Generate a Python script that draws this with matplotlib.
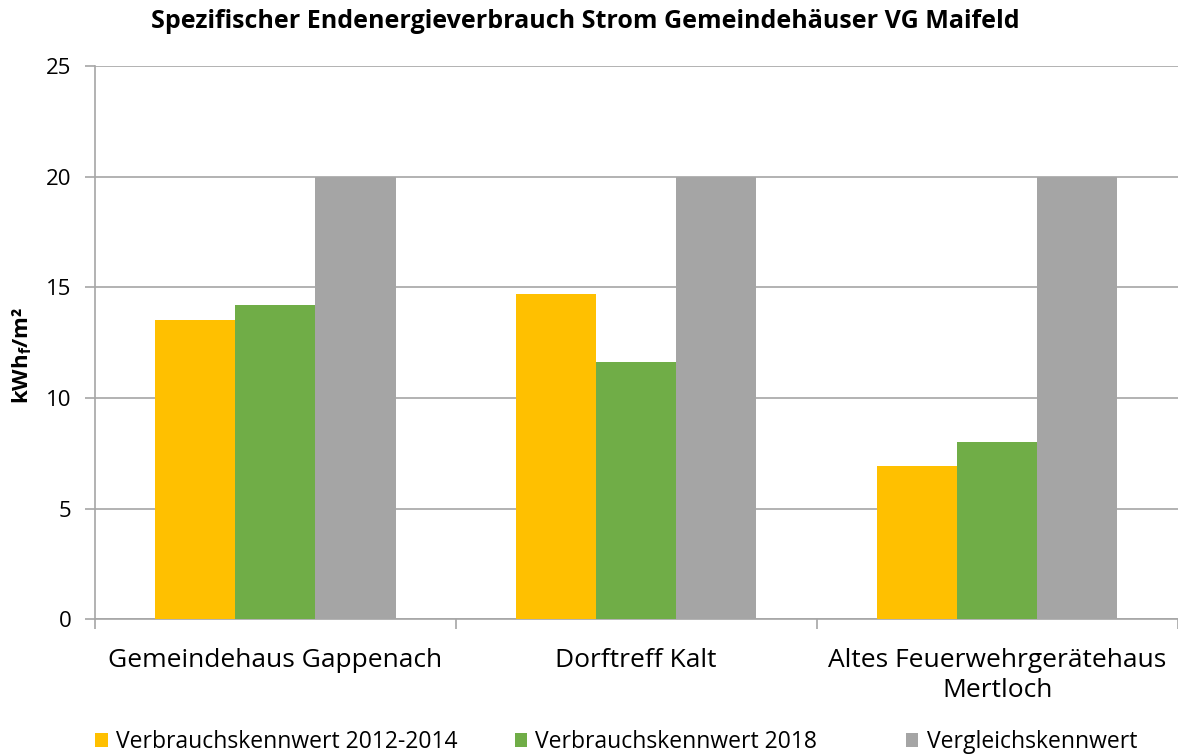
import matplotlib
matplotlib.use('Agg')
import numpy as np
import matplotlib.pyplot as plt

plt.rcParams['font.family'] = ['Open Sans', 'DejaVu Sans']

categories = ['Gemeindehaus Gappenach', 'Dorftreff Kalt', 'Altes Feuerwehrgerätehaus\nMertloch']
series_names = ['Verbrauchskennwert 2012-2014', 'Verbrauchskennwert 2018', 'Vergleichskennwert']
werte_2012_2014 = [13.5, 14.7, 6.9]
werte_2018 = [14.2, 11.6, 8.0]
vergleich = [20, 20, 20]
colors = ['#FFC000', '#70AD47', '#A5A5A5']

fig = plt.figure(figsize=(11.78, 7.56), dpi=100)
ax = fig.add_axes([0.0806, 0.181, 0.919, 0.7317])

x = np.arange(len(categories))
w = 0.222
bars = []
for i, (vals, name) in enumerate(zip([werte_2012_2014, werte_2018, vergleich], series_names)):
    bars.append(ax.bar(x + (i - 1) * w, vals, w, color=colors[i], label=name, zorder=3))

ax.set_xlim(-0.5, 2.5)
ax.set_ylim(0, 25)
ax.set_yticks([0, 5, 10, 15, 20, 25])
ax.yaxis.grid(True, color='#A6A6A6', linewidth=1.2, zorder=0)
for s in ['top', 'right']:
    ax.spines[s].set_visible(False)
ax.spines['left'].set_color('#A6A6A6')
ax.spines['bottom'].set_color('#A6A6A6')
ax.spines['left'].set_linewidth(1.2)
ax.spines['bottom'].set_linewidth(1.2)

ax.set_xticks(x)
ax.set_xticklabels(categories, fontsize=19, linespacing=1.25)
ax.tick_params(axis='x', length=0, pad=21)
ax.set_xticks([-0.5, 0.5, 1.5, 2.5], minor=True)
ax.tick_params(axis='x', which='minor', length=7, color='#A6A6A6', width=1.2)
ax.tick_params(axis='y', labelsize=16, length=7, color='#A6A6A6', width=1.2, pad=10)

ax.set_ylabel('kWh$_\\mathregular{f}$/m²', fontsize=16, fontweight='bold')
ax.yaxis.set_label_coords(-0.056, 0.477)
fig.text(0.497, 0.971, 'Spezifischer Endenergieverbrauch Strom Gemeindehäuser VG Maifeld',
         fontsize=18, fontweight='bold', ha='center', va='center')

# legend entries placed one by one, like the spreadsheet legend
leg_x = [0.081, 0.437, 0.769]
for bx, b, name in zip(leg_x, bars, series_names):
    leg = fig.legend([b], [name], loc='center left', bbox_to_anchor=(bx, 0.018),
                     frameon=False, fontsize=16.5, handlelength=0.55, handleheight=0.55,
                     handletextpad=0.35, borderpad=0, borderaxespad=0)

fig.savefig('out.png', dpi=100)
